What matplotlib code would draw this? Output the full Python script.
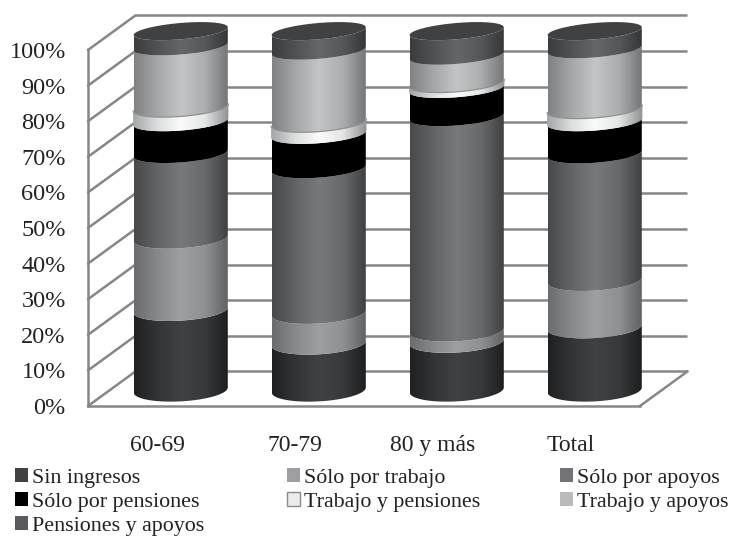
import numpy as np
import matplotlib
matplotlib.use("Agg")
import matplotlib.pyplot as plt
from matplotlib.patches import Polygon, Patch
from matplotlib.colors import LinearSegmentedColormap

plt.rcParams['font.family'] = ['Liberation Serif', 'DejaVu Serif']

## Data
categories = ["60-69", "70-79", "80 y más", "Total"]
series = ["Sin ingresos", "Sólo por trabajo", "Sólo por apoyos", "Sólo por pensiones",
          "Trabajo y pensiones", "Trabajo y apoyos", "Pensiones y apoyos"]
sin_ingresos = [22.3, 13.0, 13.5, 17.5]
solo_trabajo = [20.0, 8.5, 3.1, 13.1]
solo_apoyos = [23.7, 40.3, 59.6, 35.3]
solo_pensiones = [8.8, 9.5, 7.8, 8.9]
trabajo_pensiones = [3.9, 3.2, 1.5, 3.5]
trabajo_apoyos = [17.1, 20.1, 7.7, 16.7]
pensiones_apoyos = [4.2, 5.4, 6.8, 5.0]
values = [sin_ingresos, solo_trabajo, solo_apoyos, solo_pensiones,
          trabajo_pensiones, trabajo_apoyos, pensiones_apoyos]
y_ticks = list(range(0, 101, 10))

## Colours: edge, left-mid, centre, right-mid, edge
shades = [
    ["#1f2022", "#323436", "#3f4143", "#38393b", "#1c1d1f"],
    ["#6b6c6e", "#88898c", "#9d9fa2", "#8e9093", "#5f6062"],
    ["#48494b", "#636466", "#77797c", "#68696c", "#3e3f41"],
    ["#000000", "#000000", "#000000", "#000000", "#000000"],
    ["#a4a5a7", "#dcdddd", "#fbfbfb", "#e4e5e5", "#8f9092"],
    ["#7f8183", "#a5a7a9", "#c3c5c7", "#abadaf", "#727375"],
    ["#3b3c3e", "#505254", "#646668", "#55575a", "#343537"],
]
legend_colors = ["#3f4143", "#9d9fa2", "#717376", "#000000", "#ececec", "#b9bbbd", "#595b5e"]
grid_color = "#868686"

W, H = 731, 537
fig = plt.figure(figsize=(W / 100, H / 100), dpi=100)
# the axes rectangle is the front of the floor and the front left wall
ax = fig.add_axes([88 / W, 1 - 406 / H, 552 / W, 356 / H])
ax.set_xlim(-0.5, 3.5)
ax.set_ylim(0, 100)

DEPTH_X = 0.3435   # 47 px
DEPTH_Y = -9.7     # back wall sits 34.5 px higher
BAR_X = 0.172
BAR_LIFT = 4.5
BAR_SCALE = 1.008
HALF_W = 0.341

for s in ["top", "right"]:
    ax.spines[s].set_visible(False)
for s in ["left", "bottom"]:
    ax.spines[s].set_color(grid_color)
    ax.spines[s].set_linewidth(1.8)
ax.set_xticks(range(len(categories)), categories, fontsize=17)
ax.set_yticks(y_ticks, [f"{t}%" for t in y_ticks], fontsize=17.5)
ax.tick_params(axis="x", length=0, pad=21, colors="#222222")
ax.tick_params(axis="y", length=0, pad=16, colors="#222222")

## Back wall and floor
xl, xr = -0.5, 3.5
for t in y_ticks:
    ax.plot([xl, xl + DEPTH_X], [t, t - DEPTH_Y], color=grid_color, lw=1.8,
            clip_on=False, zorder=1, solid_capstyle="round")
    ax.plot([xl + DEPTH_X, xr + DEPTH_X], [t - DEPTH_Y, t - DEPTH_Y], color=grid_color, lw=1.8,
            clip_on=False, zorder=1, solid_capstyle="butt")
ax.plot([xr, xr + DEPTH_X], [0, -DEPTH_Y], color=grid_color, lw=1.8, clip_on=False, zorder=1)


def tilt(level):
    # ellipses flatten and lean more toward the top of the cylinder
    frac = (level - BAR_LIFT) / 100
    return 3.2 - 0.9 * frac, 0.7 + 0.4 * frac


def front_arc(cx, level, hw, n=60):
    # lower half of a tilted ellipse, left to right
    b, s = tilt(level)
    t = np.linspace(np.pi, 2 * np.pi, n)
    return np.column_stack([cx + hw * np.cos(t), level + b * np.sin(t) + s * np.cos(t)])


def shaded_band(cx, lo, hi, colors, hw, z):
    low = front_arc(cx, lo, hw)
    high = front_arc(cx, hi, hw)[::-1]
    poly = Polygon(np.vstack([low, high]), closed=True, fc="none", ec="none",
                   transform=ax.transData)
    ax.add_patch(poly)
    cmap = LinearSegmentedColormap.from_list("band", colors, N=256)
    grad = np.linspace(0, 1, 256).reshape(1, -1)
    im = ax.imshow(grad, cmap=cmap, vmin=0, vmax=1, aspect="auto", interpolation="bilinear",
                   extent=(cx - hw, cx + hw, lo - 6, hi + 6), zorder=z)
    im.set_clip_path(poly)
    im.set_clip_box(fig.bbox)
    return poly


## Cylinders
for i in range(len(categories)):
    cx = i + BAR_X
    level = BAR_LIFT
    for k in range(len(series)):
        top = level + values[k][i] * BAR_SCALE
        if k == 4:
            # white ring stands a little proud of the cylinder
            shaded_band(cx, level, top, shades[k], HALF_W * 1.012, 4)
            arc = front_arc(cx, top, HALF_W * 1.012)
            ax.plot(arc[:, 0], arc[:, 1], color="#8f9092", lw=0.9, clip_on=False, zorder=4.1)
        else:
            shaded_band(cx, level, top, shades[k], HALF_W, 3 + k * 0.01)
        level = top
    # flat cap on top
    b, s = tilt(level)
    t = np.linspace(0, 2 * np.pi, 120)
    cap = np.column_stack([cx + HALF_W * np.cos(t), level + b * np.sin(t) + s * np.cos(t)])
    ax.add_patch(Polygon(cap, closed=True, fc="#3f4143", ec="none", clip_on=False, zorder=5))

ax.set_xlim(-0.5, 3.5)
ax.set_ylim(0, 100)

## Legend, one block per column
columns = [([0, 3, 6], 15), ([1, 4], 287), ([2, 5], 560)]
for idx, left in columns:
    handles = [Patch(fc=legend_colors[j], ec="#8a8a8a" if j == 4 else "none", lw=1) for j in idx]
    labels = [series[j] for j in idx]
    fig.legend(handles, labels, loc="upper left", bbox_to_anchor=(left / W, 1 - 468 / H),
               frameon=False, fontsize=15.8, borderpad=0, borderaxespad=0, labelspacing=0.2,
               handlelength=0.6, handleheight=0.6, handletextpad=0.17, labelcolor="#222222")

fig.savefig("out.png", dpi=100)
